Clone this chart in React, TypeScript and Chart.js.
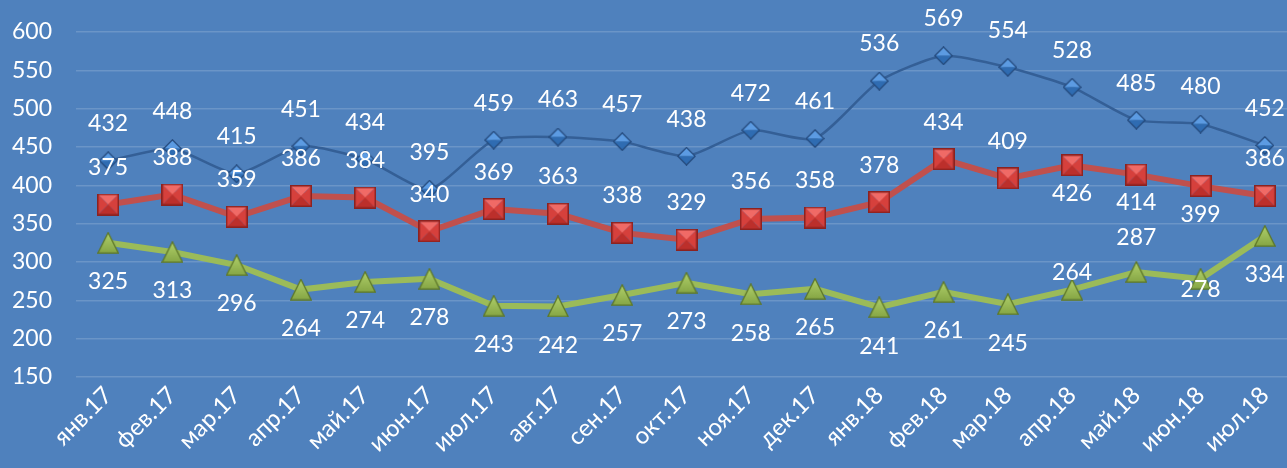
import React, { useEffect, useRef } from 'react';
import { Chart, registerables } from 'chart.js';

Chart.register(...registerables);

// ---- data ----
const categories = [
  'янв.17', 'фев.17', 'мар.17', 'апр.17', 'май.17', 'июн.17', 'июл.17', 'авг.17', 'сен.17', 'окт.17',
  'ноя.17', 'дек.17', 'янв.18', 'фев.18', 'мар.18', 'апр.18', 'май.18', 'июн.18', 'июл.18',
];
const blueValues = [432, 448, 415, 451, 434, 395, 459, 463, 457, 438, 472, 461, 536, 569, 554, 528, 485, 480, 452];
const redValues = [375, 388, 359, 386, 384, 340, 369, 363, 338, 329, 356, 358, 378, 434, 409, 426, 414, 399, 386];
const greenValues = [325, 313, 296, 264, 274, 278, 243, 242, 257, 273, 258, 265, 241, 261, 245, 264, 287, 278, 334];
const yMin = 150;
const yMax = 600;
const yStep = 50;

// ---- label placement (pixel offsets from the point, styling only) ----
const blueLabelOffsets = [-37, -37, -37, -37, -37, -37, -37, -37, -37, -37, -37, -37, -37, -37, -37, -37, -37, -37, -37];
const redLabelOffsets = [-37, -37, -37, -37, -37, -37, -37, -37, -37, -37, -37, -37, -37, -37, -37, 28, 28, 28, -37];
const greenLabelOffsets = [39, 39, 39, 39, 39, 39, 39, 39, 39, 39, 39, 39, 39, 39, 39, -17, -34, 11, 39];

const FONT = 'Lato, "Open Sans", "DejaVu Sans", sans-serif';

function makeCanvas(w: number, h: number) {
  const c = document.createElement('canvas');
  c.width = w;
  c.height = h;
  return c;
}

function squareMarker(size: number) {
  const c = makeCanvas(size, size);
  const g = c.getContext('2d')!;
  const s = size;
  const m = s / 2;
  const tri = (pts: number[][], color: string) => {
    g.beginPath();
    g.moveTo(pts[0][0], pts[0][1]);
    for (let i = 1; i < pts.length; i++) g.lineTo(pts[i][0], pts[i][1]);
    g.closePath();
    g.fillStyle = color;
    g.fill();
  };
  tri([[0, 0], [s, 0], [m, m]], '#F06A66');
  tri([[0, 0], [m, m], [0, s]], '#D6403C');
  tri([[s, 0], [s, s], [m, m]], '#D6403C');
  tri([[0, s], [m, m], [s, s]], '#BC2F2B');
  g.strokeStyle = '#8C2220';
  g.lineWidth = 1.5;
  g.strokeRect(0.75, 0.75, s - 1.5, s - 1.5);
  return c;
}

function diamondMarker(size: number) {
  const c = makeCanvas(size, size);
  const g = c.getContext('2d')!;
  const m = size / 2;
  g.beginPath();
  g.moveTo(0.5, m);
  g.lineTo(m, 0.5);
  g.lineTo(size - 0.5, m);
  g.closePath();
  g.fillStyle = '#5C9BE2';
  g.fill();
  g.beginPath();
  g.moveTo(0.5, m);
  g.lineTo(m, size - 0.5);
  g.lineTo(size - 0.5, m);
  g.closePath();
  g.fillStyle = '#2F6CB2';
  g.fill();
  g.beginPath();
  g.moveTo(0.75, m);
  g.lineTo(m, 0.75);
  g.lineTo(size - 0.75, m);
  g.lineTo(m, size - 0.75);
  g.closePath();
  g.strokeStyle = '#24487A';
  g.lineWidth = 1.2;
  g.stroke();
  return c;
}

function triangleMarker(w: number, h: number) {
  const c = makeCanvas(w, h);
  const g = c.getContext('2d')!;
  const grad = g.createLinearGradient(0, 0, 0, h);
  grad.addColorStop(0, '#B2D26C');
  grad.addColorStop(1, '#84A443');
  g.beginPath();
  g.moveTo(w / 2, 0.8);
  g.lineTo(w - 0.8, h - 0.8);
  g.lineTo(0.8, h - 0.8);
  g.closePath();
  g.fillStyle = grad;
  g.fill();
  g.strokeStyle = '#5E7829';
  g.lineWidth = 1.3;
  g.stroke();
  return c;
}

const valueLabels = {
  id: 'valueLabels',
  afterDatasetsDraw(chart: any) {
    const ctx = chart.ctx;
    ctx.save();
    ctx.font = `23px ${FONT}`;
    ctx.fillStyle = '#FFFFFF';
    ctx.textAlign = 'center';
    ctx.textBaseline = 'middle';
    chart.data.datasets.forEach((ds: any, i: number) => {
      const meta = chart.getDatasetMeta(i);
      meta.data.forEach((pt: any, j: number) => {
        ctx.fillText(String(ds.data[j]), pt.x, pt.y + ds.labelOffsets[j]);
      });
    });
    ctx.restore();
  },
};

export default function App() {
  const ref = useRef<HTMLCanvasElement>(null);

  useEffect(() => {
    let chart: Chart | null = null;
    let cancelled = false;
    const build = () => {
      if (cancelled || !ref.current) return;
      chart = new Chart(ref.current, {
        type: 'line',
        data: {
          labels: categories,
          datasets: [
            {
              data: blueValues,
              borderColor: '#345F96',
              borderWidth: 2.5,
              pointStyle: diamondMarker(19),
              pointRadius: 10,
              tension: 0.2,
              labelOffsets: blueLabelOffsets,
            } as any,
            {
              data: redValues,
              borderColor: '#C0504D',
              borderWidth: 6,
              pointStyle: squareMarker(22),
              pointRadius: 11,
              tension: 0,
              labelOffsets: redLabelOffsets,
            } as any,
            {
              data: greenValues,
              borderColor: '#9BBB59',
              borderWidth: 6,
              pointStyle: triangleMarker(22, 22),
              pointRadius: 11,
              tension: 0,
              labelOffsets: greenLabelOffsets,
            } as any,
          ],
        },
        options: {
          responsive: false,
          animation: false,
          events: [],
          layout: { autoPadding: false, padding: { top: 32, right: 0, left: 0, bottom: 0 } },
          plugins: {
            legend: { display: false },
            tooltip: { enabled: false },
            title: { display: false },
          },
          scales: {
            x: {
              offset: true,
              grid: { display: false, drawTicks: false },
              border: { display: false },
              ticks: {
                color: '#FFFFFF',
                font: { family: FONT, size: 24 },
                maxRotation: 45,
                minRotation: 45,
                autoSkip: false,
                padding: 4,
              },
              afterFit: (s: any) => {
                s.height = 91;
              },
            },
            y: {
              min: yMin,
              max: yMax,
              ticks: {
                stepSize: yStep,
                color: '#FFFFFF',
                font: { family: FONT, size: 23 },
                padding: 0,
              },
              grid: {
                color: 'rgba(255,255,255,0.16)',
                lineWidth: 1.5,
                drawTicks: true,
                tickLength: 24,
                tickColor: 'rgba(0,0,0,0)',
              },
              border: { display: false },
              afterFit: (s: any) => {
                s.width = 76;
              },
            },
          },
        },
        plugins: [valueLabels],
      });
    };
    const fontsReady = (document as any).fonts
      ? Promise.all([
          (document as any).fonts.load(`23px Lato`),
          (document as any).fonts.load(`24px Lato`),
        ]).catch(() => null)
      : Promise.resolve();
    fontsReady.then(build);
    return () => {
      cancelled = true;
      if (chart) chart.destroy();
    };
  }, []);

  return (
    <div
      style={{
        position: 'fixed',
        left: 0,
        top: 0,
        width: 1287,
        height: 468,
        overflow: 'hidden',
        background: '#4F81BD',
      }}
    >
      <canvas ref={ref} width={1297} height={468} style={{ width: 1297, height: 468, display: 'block' }} />
    </div>
  );
}
